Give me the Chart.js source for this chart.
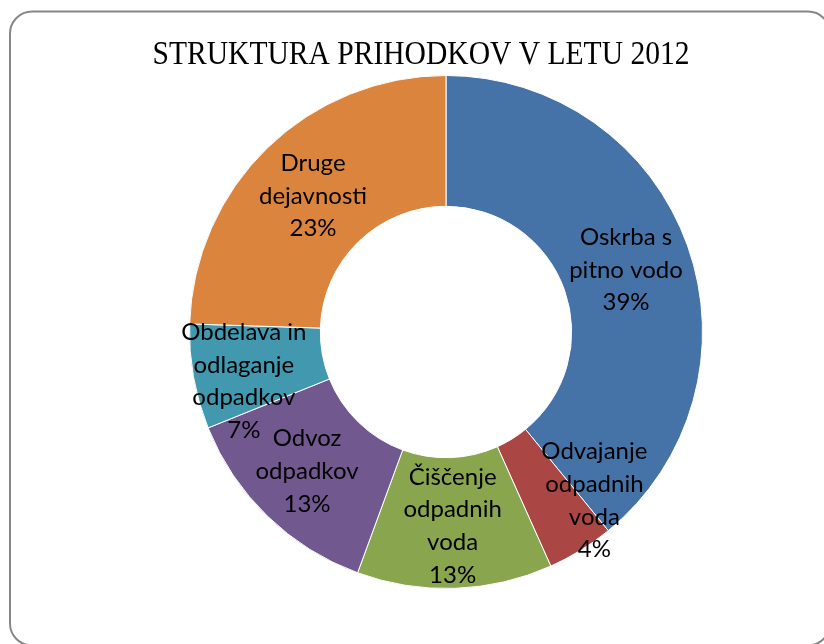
<!DOCTYPE html>
<html>
<head>
<meta charset="utf-8">
<script src="https://cdn.jsdelivr.net/npm/chart.js@4/dist/chart.umd.min.js"></script>
<style>
  html, body { margin: 0; padding: 0; background: #ffffff; }
  #wrap { width: 824px; height: 644px; }
</style>
</head>
<body>
<div id="wrap"><canvas id="c" width="824" height="644"></canvas></div>
<script>
const chartTitle = 'STRUKTURA PRIHODKOV V LETU 2012';
const categories = [
  ['Oskrba s', 'pitno vodo'],
  ['Odvajanje', 'odpadnih', 'voda'],
  ['Čiščenje', 'odpadnih', 'voda'],
  ['Odvoz', 'odpadkov'],
  ['Obdelava in', 'odlaganje', 'odpadkov'],
  ['Druge', 'dejavnosti']
];
const shares = [39.1, 4.2, 12.3, 13.3, 6.6, 24.5];
const percentLabels = ['39%', '4%', '13%', '13%', '7%', '23%'];
const colors = ['#4572A7', '#AA4643', '#89A54E', '#71588F', '#4198AF', '#DB843D'];

// per-slice label nudges (px) to match the reference's label placement
const labelNudge = [[0, 2], [48, 6], [0, 3], [-6, 2], [-14, 16], [0, 1]];

const framePlugin = {
  id: 'frame',
  beforeDraw(chart) {
    const ctx = chart.ctx;
    ctx.save();
    ctx.fillStyle = '#ffffff';
    ctx.fillRect(0, 0, chart.width, chart.height);
    ctx.beginPath();
    ctx.roundRect(10, 11.5, 820, 634, 22);
    ctx.strokeStyle = '#878787';
    ctx.lineWidth = 2;
    ctx.stroke();
    ctx.restore();
  },
  afterDraw(chart) {
    const ctx = chart.ctx;
    ctx.save();
    ctx.fillStyle = '#000000';
    ctx.font = '33px "Liberation Serif"';
    ctx.textAlign = 'center';
    ctx.textBaseline = 'alphabetic';
    ctx.fillText(chartTitle, 421, 64, 537);
    ctx.restore();
  }
};

const labelPlugin = {
  id: 'sliceLabels',
  afterDatasetsDraw(chart) {
    const ctx = chart.ctx;
    const meta = chart.getDatasetMeta(0);
    ctx.save();
    ctx.fillStyle = '#000000';
    ctx.font = '24px Lato';
    ctx.textAlign = 'center';
    ctx.textBaseline = 'middle';
    const lh = 32.6;
    meta.data.forEach((arc, i) => {
      const p = arc.getCenterPoint();
      const lines = [...categories[i], percentLabels[i]];
      const cx = p.x + labelNudge[i][0];
      const cy = p.y + labelNudge[i][1];
      const top = cy - (lines.length - 1) * lh / 2;
      lines.forEach((t, k) => ctx.fillText(t, cx, top + k * lh));
    });
    ctx.restore();
  }
};

new Chart(document.getElementById('c'), {
  type: 'doughnut',
  data: {
    labels: categories,
    datasets: [{
      data: shares,
      backgroundColor: colors,
      borderColor: '#ffffff',
      borderWidth: 1,
      hoverOffset: 0
    }]
  },
  options: {
    responsive: false,
    animation: false,
    cutout: '49%',
    layout: { padding: { left: 189, right: 121, top: 75, bottom: 55 } },
    plugins: {
      legend: { display: false },
      title: { display: false },
      tooltip: { enabled: false }
    }
  },
  plugins: [framePlugin, labelPlugin]
});
</script>
</body>
</html>
